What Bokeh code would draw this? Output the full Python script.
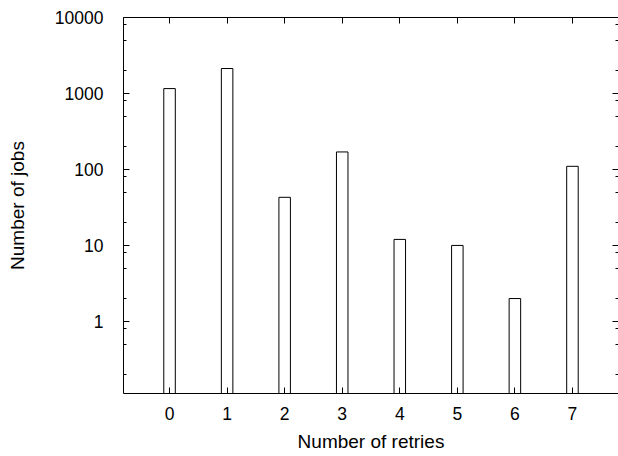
from bokeh.plotting import figure
from bokeh.models import LinearAxis, LogAxis, FixedTicker, Range1d, PrintfTickFormatter, CustomJSTickFormatter
from bokeh.embed import file_html
from bokeh.resources import INLINE

retries = [0, 1, 2, 3, 4, 5, 6, 7]
jobs = [1160, 2130, 43, 170, 12, 10, 2, 110]
y_major = [1, 10, 100, 1000, 10000]
y_minor = [0.2, 0.5, 0.8, 2, 5, 8, 20, 50, 80, 200, 500, 800, 2000, 5000, 8000]

FONT = "Liberation Sans"

p = figure(width=618, height=456, output_backend="svg", toolbar_location=None,
           y_axis_type="log", x_range=Range1d(-0.8, 7.8), y_range=Range1d(0.1125, 10000),
           min_border_left=123, min_border_right=0, min_border_top=17, min_border_bottom=63)
p.outline_line_color = None
p.grid.visible = False
p.background_fill_color = "white"
p.border_fill_color = "white"

p.vbar(x=retries, top=jobs, bottom=0.01, width=0.2, fill_color="white",
       line_color="black", line_width=1)

def style(ax, labels=True):
    ax.axis_line_color = "black"
    ax.axis_line_width = 1
    ax.major_tick_line_color = "black"
    ax.minor_tick_line_color = "black"
    ax.major_tick_out = 0
    ax.minor_tick_out = 0
    ax.major_tick_in = 6
    ax.minor_tick_in = 3
    ax.major_label_text_font = FONT
    ax.major_label_text_font_size = "17.5px"
    ax.major_label_text_color = "black"
    ax.axis_label_text_font = FONT
    ax.axis_label_text_font_size = "19px"
    ax.axis_label_text_font_style = "normal"
    ax.axis_label_text_color = "black"
    if not labels:
        ax.formatter = CustomJSTickFormatter(code="return ''")
        ax.major_label_text_font_size = "1px"
        ax.major_label_standoff = 0

xt = FixedTicker(ticks=retries)
yt = FixedTicker(ticks=y_major, minor_ticks=y_minor)

xa = p.xaxis[0]
xa.ticker = xt
style(xa)
xa.minor_tick_in = 0
xa.major_label_standoff = 13
xa.axis_label = "Number of retries"
xa.axis_label_standoff = 8

ya = p.yaxis[0]
ya.ticker = yt
ya.formatter = PrintfTickFormatter(format="%d")
style(ya)
ya.major_label_standoff = 20
ya.axis_label = "Number of jobs"
ya.axis_label_standoff = 24

top = LinearAxis(ticker=xt)
style(top, labels=False)
top.minor_tick_in = 0
p.add_layout(top, "above")

right = LogAxis(ticker=yt)
style(right, labels=False)
right.axis_line_color = None
p.add_layout(right, "right")

open("out.html", "w").write(file_html(p, INLINE))
